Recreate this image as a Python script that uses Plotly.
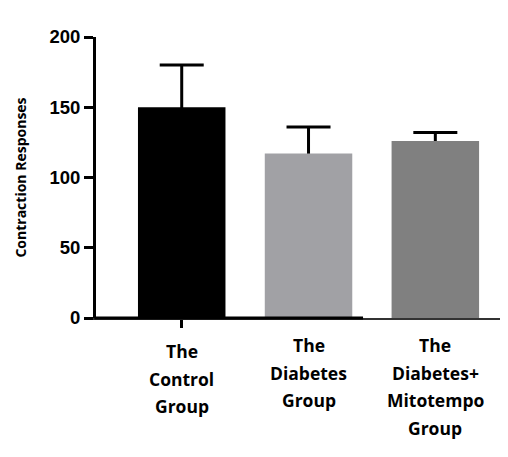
import plotly.graph_objects as go

categories = ["The Control Group", "The Diabetes Group", "The Diabetes+ Mitotempo Group"]
label_lines = [["The", "Control", "Group"],
               ["The", "Diabetes", "Group"],
               ["The", "Diabetes+", "Mitotempo", "Group"]]
means = [150, 117, 126]
errors_plus = [30, 19, 6]
bar_colors = ["#000000", "#a1a1a5", "#808080"]
y_ticks = [0, 50, 100, 150, 200]

fig = go.Figure()
# transparent bars carrying the error bars, drawn first so the solid bars hide the lower halves
fig.add_trace(go.Bar(
    x=categories, y=means,
    marker=dict(color="rgba(0,0,0,0)", line=dict(width=0)),
    width=0.69,
    error_y=dict(type="data", array=errors_plus, symmetric=True,
                 color="#000000", thickness=3, width=22),
    hoverinfo="skip",
))
fig.add_trace(go.Bar(
    x=categories, y=means,
    marker=dict(color=bar_colors, line=dict(width=0)),
    width=0.69,
))

start_offsets = [33, 27, 27]
for cat, lines, off in zip(categories, label_lines, start_offsets):
    for i, t in enumerate(lines):
        fig.add_annotation(x=cat, y=0, xref="x", yref="paper", text=t,
                           showarrow=False, yanchor="middle", xanchor="center",
                           yshift=-(off + i * 27.5),
                           font=dict(family="Open Sans", size=17.5, color="#000000",
                                     weight="bold"))

# thick part of the x axis baseline
fig.add_shape(type="line", xref="paper", yref="paper", x0=-0.004, x1=0.661, y0=0, y1=0,
              line=dict(color="#000000", width=3))

fig.update_layout(
    width=500, height=449,
    margin=dict(l=88, r=8, t=29, b=139),
    paper_bgcolor="white", plot_bgcolor="white",
    showlegend=False,
    barmode="overlay",
    xaxis=dict(
        type="category", range=[-0.676, 2.51],
        showline=True, linecolor="#333333", linewidth=1.5,
        tickmode="array", tickvals=[categories[0]], ticktext=[""],
        ticks="outside", ticklen=8, tickwidth=3, tickcolor="#000000",
        showgrid=False, zeroline=False,
    ),
    yaxis=dict(
        range=[0, 200], tickvals=y_ticks,
        showline=True, linecolor="#000000", linewidth=3,
        ticks="outside", ticklen=9, tickwidth=3, tickcolor="#000000",
        showgrid=False, zeroline=False,
        tickfont=dict(family="Liberation Sans", size=18.5, color="#000000", weight="bold"),
        title=dict(text="Contraction Responses", standoff=20,
                   font=dict(family="Open Sans", size=14, color="#000000", weight="bold")),
    ),
)

fig.write_html("out.html")
